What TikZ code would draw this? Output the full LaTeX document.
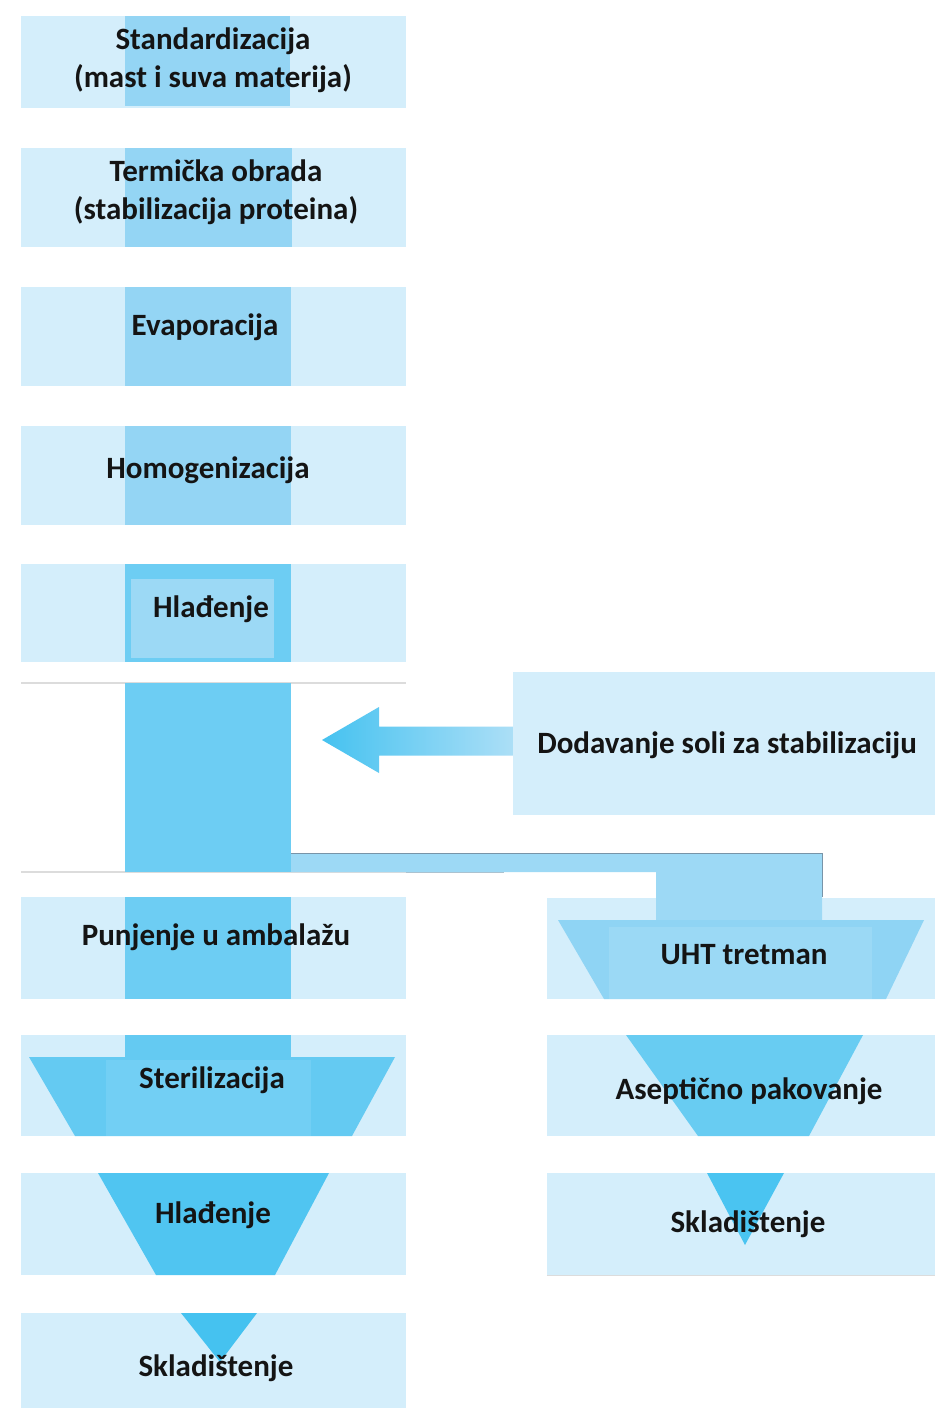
\documentclass[tikz,border=0pt]{standalone}
\usepackage{fontspec}
\setmainfont{Carlito}
\definecolor{lightb}{HTML}{D4EEFB}
\definecolor{colA}{HTML}{94D5F4}
\definecolor{colB}{HTML}{6DCDF3}
\definecolor{colBin}{HTML}{9CD9F5}
\definecolor{colC}{HTML}{64CAF2}
\definecolor{colCin}{HTML}{72CFF4}
\definecolor{colD}{HTML}{50C5F1}
\definecolor{colE}{HTML}{45C2F0}
\definecolor{bandc}{HTML}{9DD9F5}
\definecolor{uhtc}{HTML}{8FD4F4}
\definecolor{uhtin}{HTML}{9BD9F5}
\definecolor{asepc}{HTML}{68CCF2}
\definecolor{skrc}{HTML}{4AC4F1}
\definecolor{edgec}{HTML}{7894A8}
\definecolor{grayl}{HTML}{DCDCDC}
\definecolor{txtc}{HTML}{141414}
\begin{document}
\begin{tikzpicture}[x=1pt,y=-1pt,
  box/.style={fill=lightb, draw=none, inner sep=0pt},
  lbl/.style={text=txtc, font=\fontsize{31}{37.5}\selectfont\bfseries, align=center, inner sep=0pt}]
\useasboundingbox (0,0) rectangle (935,1408);
\fill[white] (0,0) rectangle (935,1408);
% boxes
\node[box, minimum width=385pt, minimum height=92pt]  (b1) at (213.5,62) {};
\node[box, minimum width=385pt, minimum height=99pt]  (b2) at (213.5,197.5) {};
\node[box, minimum width=385pt, minimum height=99pt]  (b3) at (213.5,336.5) {};
\node[box, minimum width=385pt, minimum height=99pt]  (b4) at (213.5,475.5) {};
\node[box, minimum width=385pt, minimum height=98pt]  (b5) at (213.5,613) {};
\node[box, minimum width=385pt, minimum height=102pt] (b6) at (213.5,948) {};
\node[box, minimum width=385pt, minimum height=101pt] (b7) at (213.5,1085.5) {};
\node[box, minimum width=385pt, minimum height=102pt] (b8) at (213.5,1224) {};
\node[box, minimum width=385pt, minimum height=97pt]  (b9) at (213.5,1361.5) {};
\node[box, minimum width=422pt, minimum height=143pt] (bd) at (724,743.5) {};
\node[box, minimum width=388pt, minimum height=101pt] (bu) at (741,948.5) {};
\node[box, minimum width=388pt, minimum height=101pt] (ba) at (741,1085.5) {};
\node[box, minimum width=388pt, minimum height=102pt] (bs) at (741,1224) {};
% thin gray lines
\draw[grayl, line width=1.2pt] (21,683) -- (406,683);
\draw[grayl, line width=1.2pt] (21,872) -- (406,872);
\draw[edgec!60, line width=1.2pt] (406,872) -- (504,872);
\draw[grayl, line width=1.2pt] (bs.south west) -- (bs.south east);
% central column
\fill[colA] (125,16) rectangle (290,106);
\fill[colA] (125,148) rectangle (292,247);
\fill[colA] (125,287) rectangle (291,386);
\fill[colA] (125,426) rectangle (291,525);
\fill[colB] (125,564) rectangle (291,662);
\fill[colBin] (131,579) rectangle (274,658);
\fill[colB] (125,683) rectangle (291,872);
\fill[colB] (125,897) rectangle (291,999);
\fill[colC] (125,1035) rectangle (291,1057);
\fill[colC] (29,1057) -- (395,1057) -- (352,1136) -- (75,1136) -- cycle;
\fill[colCin] (106,1060) rectangle (311,1136);
\fill[colD] (98,1173) -- (329,1173) -- (275,1275) -- (156,1275) -- cycle;
\fill[colE] (181,1313) -- (257,1313) -- (220,1362) -- cycle;
% branch band
\fill[bandc] (291,853) -- (822,853) -- (822,921) -- (656,921) -- (656,872) -- (291,872) -- cycle;
\draw[edgec, line width=1pt] (291,853) -- (822,853) -- (822,897);
\fill[uhtc] (558,920) -- (924,920) -- (886,999) -- (604,999) -- cycle;
\fill[uhtin] (609,927) rectangle (872,999);
\fill[asepc] (626,1035) -- (863,1035) -- (809,1136) -- (698,1136) -- cycle;
\fill[skrc] (707,1173) -- (784,1173) -- (745,1245) -- cycle;
% arrow
\shade[left color=colE, right color=bandc!85!white]
  ([yshift=17pt]bd.west) -- (379,726.5) -- (379,707) -- (322,740) -- (379,773) -- (379,755.5) -- ([yshift=-12pt]bd.west) -- cycle;
% labels
\node[lbl] (t1) at (213,60) {Standardizacija\\(mast i suva materija)};
\node[lbl] (t2) at (216,192) {Termička obrada\\(stabilizacija proteina)};
\node[lbl] (t3) at (205,327) {Evaporacija};
\node[lbl] (t4) at (208,470) {Homogenizacija};
\node[lbl] (t5) at (211,609) {Hlađenje};
\node[lbl] (t6) at (727,745) {Dodavanje soli za stabilizaciju};
\node[lbl] (t7) at (216,937) {Punjenje u ambalažu};
\node[lbl] (t8) at (744,955) {UHT tretman};
\node[lbl] (t9) at (212,1080) {Sterilizacija};
\node[lbl] (t10) at (749,1091) {Aseptično pakovanje};
\node[lbl] (t11) at (213,1215) {Hlađenje};
\node[lbl] (t12) at (748,1224) {Skladištenje};
\node[lbl] (t13) at (216,1368) {Skladištenje};
\end{tikzpicture}
\end{document}
